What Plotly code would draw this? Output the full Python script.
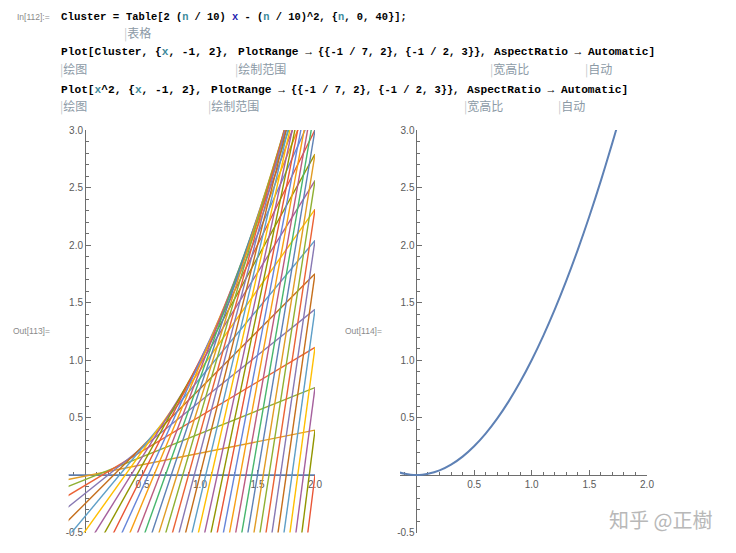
import plotly.graph_objects as go

# ---------------- data ----------------
# family of lines y = slope*x + intercept (n = 0..40)
slopes = [0.0, 0.2, 0.4, 0.6, 0.8, 1.0, 1.2, 1.4, 1.6, 1.8, 2.0, 2.2, 2.4, 2.6, 2.8, 3.0,
          3.2, 3.4, 3.6, 3.8, 4.0, 4.2, 4.4, 4.6, 4.8, 5.0, 5.2, 5.4, 5.6, 5.8, 6.0, 6.2,
          6.4, 6.6, 6.8, 7.0, 7.2, 7.4, 7.6, 7.8, 8.0]
intercepts = [0.0, -0.01, -0.04, -0.09, -0.16, -0.25, -0.36, -0.49, -0.64, -0.81, -1.0,
              -1.21, -1.44, -1.69, -1.96, -2.25, -2.56, -2.89, -3.24, -3.61, -4.0, -4.41,
              -4.84, -5.29, -5.76, -6.25, -6.76, -7.29, -7.84, -8.41, -9.0, -9.61, -10.24,
              -10.89, -11.56, -12.25, -12.96, -13.69, -14.44, -15.21, -16.0]
x_span = [-1.0, 2.0]

# parabola x^2 samples
parab_x = [-0.15, -0.1, -0.05, 0.0, 0.05, 0.1, 0.2, 0.3, 0.4, 0.5, 0.6, 0.7, 0.8, 0.9,
           1.0, 1.1, 1.2, 1.3, 1.4, 1.5, 1.6, 1.7, 1.75]
parab_y = [0.0225, 0.01, 0.0025, 0.0, 0.0025, 0.01, 0.04, 0.09, 0.16, 0.25, 0.36, 0.49,
           0.64, 0.81, 1.0, 1.21, 1.44, 1.69, 1.96, 2.25, 2.56, 2.89, 3.0625]

x_range = [-1 / 7, 2]
y_range = [-0.5, 3]
x_tickvals = [0.5, 1.0, 1.5, 2.0]
x_ticktext = ["0.5", "1.0", "1.5", "2.0"]
y_tickvals = [-0.5, 0.5, 1.0, 1.5, 2.0, 2.5, 3.0]
y_ticktext = ["-0.5", "0.5", "1.0", "1.5", "2.0", "2.5", "3.0"]

palette = ["#5E81B5", "#E19C24", "#8FB032", "#EB6235", "#8778B3", "#C56E1A",
           "#5D9EC7", "#FFBF00", "#A5609D", "#929600", "#E95536", "#6685D9",
           "#F89F13", "#BC5B80", "#47B66D"]

# page body has an 8px margin; figure is sized/placed to compensate
OFF = 8
W, H = 720, 537

def px(x):
    return (x - OFF) / W

def py(y):
    return 1 - (y - OFF) / H

fig = go.Figure()

for i, (m, b) in enumerate(zip(slopes, intercepts)):
    fig.add_trace(go.Scatter(
        x=x_span, y=[m * x_span[0] + b, m * x_span[1] + b], mode="lines",
        line=dict(color=palette[i % len(palette)], width=1.4),
        xaxis="x", yaxis="y", showlegend=False, hoverinfo="skip"))

fig.add_trace(go.Scatter(
    x=parab_x, y=parab_y, mode="lines", line=dict(color="#5E81B5", width=2, shape="spline"),
    xaxis="x2", yaxis="y2", showlegend=False, hoverinfo="skip"))

ydom = [py(532.5), py(130)]
left_x = [px(68.6), px(315)]
right_x = [px(400), px(647)]

def xpos_of_zero(dom):
    return dom[0] + (0 - x_range[0]) / (x_range[1] - x_range[0]) * (dom[1] - dom[0])

def ypos_of_zero(dom):
    return dom[0] + (0 - y_range[0]) / (y_range[1] - y_range[0]) * (dom[1] - dom[0])

axcol = "#6e6e6e"
tickfont = dict(family="Liberation Sans, Arial, sans-serif", size=10, color="#5a5a5a")

def xaxis(dom):
    return dict(domain=dom, range=x_range, anchor="free", position=ypos_of_zero(ydom),
                automargin=False,
                showgrid=False, zeroline=False, showline=True, linecolor=axcol, linewidth=1,
                ticks="inside", ticklen=5, tickcolor=axcol, tickwidth=1,
                tickmode="array", tickvals=x_tickvals, ticktext=x_ticktext,
                tickfont=tickfont, layer="below traces", fixedrange=True,
                minor=dict(ticks="inside", ticklen=3, tickcolor=axcol, dtick=0.1, tick0=0,
                           showgrid=False))

def yaxis(dom_x):
    return dict(domain=ydom, range=y_range, anchor="free", position=xpos_of_zero(dom_x),
                automargin=False,
                showgrid=False, zeroline=False, showline=True, linecolor=axcol, linewidth=1,
                ticks="inside", ticklen=5, tickcolor=axcol, tickwidth=1,
                tickmode="array", tickvals=y_tickvals, ticktext=y_ticktext,
                tickfont=tickfont, layer="below traces", fixedrange=True,
                minor=dict(ticks="inside", ticklen=3, tickcolor=axcol, dtick=0.1, tick0=0,
                           showgrid=False))

MONO = "Liberation Mono, DejaVu Sans Mono, monospace"
code_font = dict(family=MONO, size=11.2, color="#000000")
code_font_1 = dict(family=MONO, size=10.8, color="#000000")
code_font_s = dict(family=MONO, size=10.4, color="#000000")
cjk_font = dict(family="Noto Sans CJK SC", size=12, color="#8c9aa6")
small_font = dict(family="Liberation Sans, Arial, sans-serif", size=8.5, color="#8a8a8a")

VAR = "#3d8a9c"
GX = "#1f1fb0"

def ann(x, y, text, font, bold=False):
    t = "<b>" + text + "</b>" if bold else text
    return dict(x=px(x), y=py(y), xref="paper", yref="paper", text=t, showarrow=False,
                xanchor="left", yanchor="middle", font=font)

def v(s, c=VAR):
    return "<span style='color:%s'>%s</span>" % (c, s)

bar = "<span style='color:#c3c8cc'>|</span>"
ranges_txt = "{{-1 / 7, 2}, {-1 / 2, 3}}, "

annotations = [
    ann(15, 17, "In[112]:=", small_font),
    ann(59, 17, "Cluster = ", code_font_1, True),
    ann(124, 17, "Table[2 (" + v("n") + " / 10) " + v("x", GX) + " - (" + v("n")
        + " / 10)^2, {" + v("n") + ", 0, 40}];", code_font_s, True),
    ann(122, 33, bar + "表格", cjk_font),

    ann(59, 52, "Plot[Cluster, {" + v("x") + ", -1, 2}, ", code_font, True),
    ann(236, 52, "PlotRange → ", code_font, True),
    ann(316, 52, ranges_txt, code_font_s, True),
    ann(492, 52, "AspectRatio → ", code_font, True),
    ann(586, 52, "Automatic]", code_font, True),
    ann(58, 69, bar + "绘图", cjk_font),
    ann(233, 69, bar + "绘制范围", cjk_font),
    ann(488, 69, bar + "宽高比", cjk_font),
    ann(583, 69, bar + "自动", cjk_font),

    ann(59, 90, "Plot[" + v("x") + "^2, {" + v("x") + ", -1, 2}, ", code_font, True),
    ann(209, 90, "PlotRange → ", code_font, True),
    ann(289, 90, ranges_txt, code_font_s, True),
    ann(465, 90, "AspectRatio → ", code_font, True),
    ann(559, 90, "Automatic]", code_font, True),
    ann(58, 106, bar + "绘图", cjk_font),
    ann(206, 106, bar + "绘制范围", cjk_font),
    ann(462, 106, bar + "宽高比", cjk_font),
    ann(556, 106, bar + "自动", cjk_font),

    ann(11, 331, "Out[113]=", small_font),
    ann(343, 331, "Out[114]=", small_font),

    dict(x=px(660), y=py(519), xref="paper", yref="paper", text="知乎 @正樹",
         showarrow=False, xanchor="center", yanchor="middle",
         font=dict(family="Noto Sans CJK SC", size=20, color="#b8b8b8")),
]

fig.update_layout(
    width=W, height=H, margin=dict(l=0, r=0, t=0, b=0, autoexpand=False),
    paper_bgcolor="white", plot_bgcolor="white",
    xaxis=xaxis(left_x), yaxis=yaxis(left_x),
    xaxis2=xaxis(right_x), yaxis2=yaxis(right_x),
    annotations=annotations, showlegend=False,
)

fig.write_html("out.html", config=dict(displayModeBar=False))
